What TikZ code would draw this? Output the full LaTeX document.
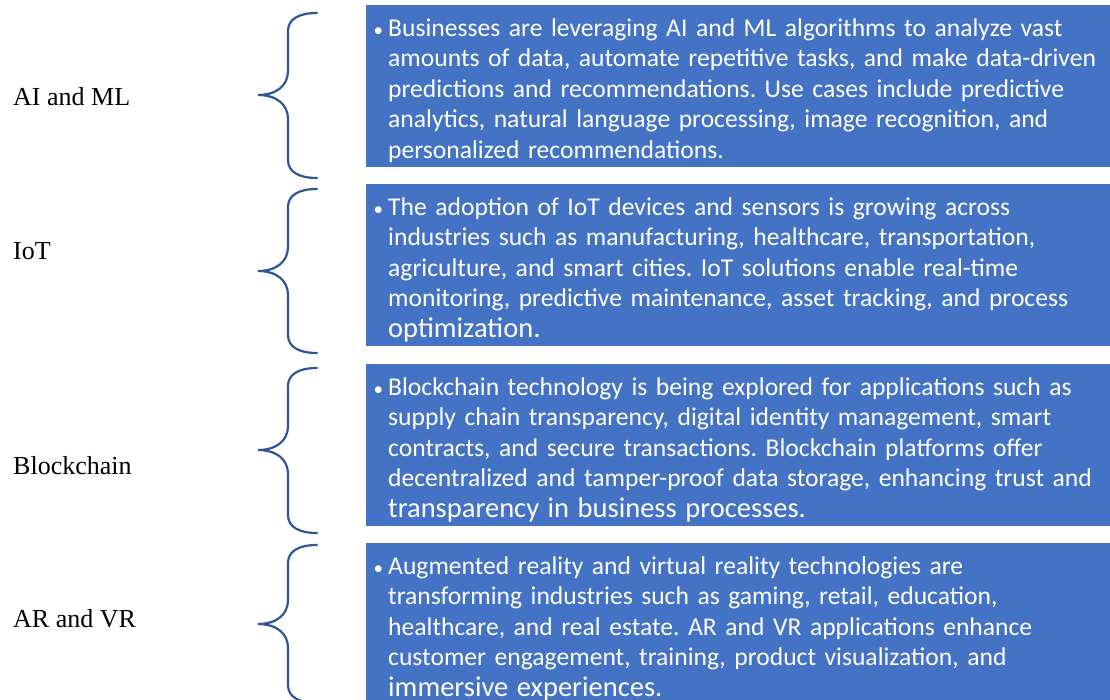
\documentclass[tikz,border=0pt]{standalone}
\usepackage{fontspec}
\setmainfont{Carlito}
\newfontfamily\serifl{Liberation Serif}
\usepackage{tikz}
\usetikzlibrary{positioning}
\definecolor{boxblue}{RGB}{68,114,196}
\definecolor{braceblue}{RGB}{47,85,151}
\frenchspacing

\tikzset{
  techbox/.style={fill=boxblue, text=white, anchor=north west, inner xsep=22, inner ysep=0,
    text width=740, align=left, font=\fontsize{25.6}{30.5}\selectfont},
  techlabel/.style={anchor=base west, inner sep=0, font=\serifl\fontsize{26}{30}\selectfont},
  techbrace/.style={braceblue, line width=2.2, line cap=round}
}
% bullet hanging left of the first line, plus struts fixing the box height
\newcommand{\bul}{\rule{0pt}{31pt}\llap{{\fontsize{19}{19}\selectfont\textbullet}\hspace{5pt}}}
\newcommand{\lastl}{\rule[-9pt]{0pt}{9pt}}
\newcommand{\tailfont}{\fontsize{28.5}{30.5}\selectfont}

\begin{document}
\begin{tikzpicture}[x=1pt,y=-1pt]
  \useasboundingbox (0,0) rectangle (1110,699);
  \def\bx{366}

  % labels on the left
  \node[techlabel] (labai)  at (13,105) {AI and ML};
  \node[techlabel] (labiot) at (13,259) {IoT};
  \node[techlabel] (labbc)  at (13,474) {Blockchain};
  \node[techlabel] (labar)  at (13,627) {AR and VR};

  % braces
  \foreach \t/\m/\b in {13/95/178,189/271/353,368/450/533,545/624/703}
    \draw[techbrace] (317,\t) .. controls (299,\t) and (288,\t+6) .. (288,\t+18)
      -- (288,\m-24) .. controls (288,\m-9) and (276,\m) .. (258,\m)
      .. controls (276,\m) and (288,\m+9) .. (288,\m+24)
      -- (288,\b-18) .. controls (288,\b-6) and (299,\b) .. (317,\b);

  % text boxes
  \node[techbox] (boxai) at (\bx,5) {\bul Businesses are leveraging AI and ML algorithms to analyze vast\\
    amounts of data, automate repetitive tasks, and make data-driven\\
    predictions and recommendations. Use cases include predictive\\
    analytics, natural language processing, image recognition, and\\
    personalized recommendations.\lastl};
  \node[techbox] (boxiot) at (\bx,184) {\bul The adoption of IoT devices and sensors is growing across\\
    industries such as manufacturing, healthcare, transportation,\\
    agriculture, and smart cities. IoT solutions enable real-time\\
    monitoring, predictive maintenance, asset tracking, and process\\
    {\tailfont optimization.}\lastl};
  \node[techbox] (boxbc) at (\bx,364) {\bul Blockchain technology is being explored for applications such as\\
    supply chain transparency, digital identity management, smart\\
    contracts, and secure transactions. Blockchain platforms offer\\
    decentralized and tamper-proof data storage, enhancing trust and\\
    {\tailfont transparency in business processes.}\lastl};
  \node[techbox] (boxar) at (\bx,543) {\bul Augmented reality and virtual reality technologies are\\
    transforming industries such as gaming, retail, education,\\
    healthcare, and real estate. AR and VR applications enhance\\
    customer engagement, training, product visualization, and\\
    {\tailfont immersive experiences.}\lastl};
\end{tikzpicture}
\end{document}
